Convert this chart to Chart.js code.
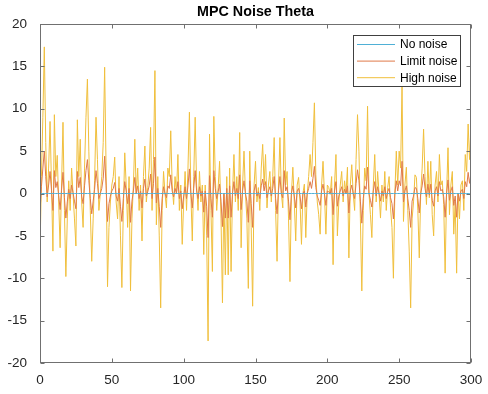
<!DOCTYPE html>
<html>
<head>
<meta charset="utf-8">
<script src="https://cdn.jsdelivr.net/npm/chart.js@4.4.1/dist/chart.umd.min.js"></script>
<style>
  body { margin: 0; background: #ffffff; }
  canvas { display: block; }
</style>
</head>
<body>
<canvas id="theta" width="488" height="394"></canvas>
<script>
////////////////////////////// data //////////////////////////////
var chartTitle = "MPC Noise Theta"
var seriesNames = ["No noise", "Limit noise", "High noise"]
var xTicks = [0, 50, 100, 150, 200, 250, 300]
var yTicks = [-20, -15, -10, -5, 0, 5, 10, 15, 20]

// sample index 0..300
var highNoise = [
  -7, 2, 9, 17.3, 6, -1, 3, 8.5, 1, -6.8,
  9.3, 2, 4.5, -1, -6.4, 1, 8.4, -2, -9.8, -3,
  1.5, -2, 3, 0, -3, -6.2, 8.7, 2, 6.4, -1,
  -4, 3, 9, 13.5, 5, -2, -8, -3, 1.5, 9,
  4, -2, 0, 2, 6, 14.9, 3, -11, -4, -1,
  1, 2, 4.3, -1, -3, 2, -5, -11.1, -2, 4.8,
  1, -4, 2, -11.5, -3, 1, 6.4, 0, 3, -2,
  1, -5.6, 2, 5.6, -1, 0.7, 3, 7.8, -2, 4,
  14.5, -3.7, 2, -5, -13.5, -2, 2.6, 0, -1.7, 3,
  2, 7.4, 1, -1.3, 2, 0, 4.6, -2, 1, -6,
  -1, 2.6, -2, 3, 9.6, 0, -5.6, 2, 9, 1,
  -2, 2.6, -1, 1, -7.2, 1, -5, -17.4, 7, -2,
  -9.2, 9.1, 2, -2, 0.7, 3.8, -3, -12.9, -0.1, -9.6,
  2, -9.6, 3, -9.2, 0, 4.6, -1, 2, -2, 7.2,
  -6.4, 1, 5, 0, -3, -11.2, 5, -4, -13.3, 1,
  3.8, -1, 0.7, -2, 3, 5.8, 1, 4.6, -1.7, 1,
  2.6, -1, 2, 6.6, -2, -8, 1, 6.6, 0, -1.7,
  8.9, 1, 2.6, -3, -10.4, 0, 3.1, -1, -5.6, 1,
  1.9, -1, -6, 0, 1.1, -5.2, 0, 2, 4.6, 2,
  6, 10.7, 2.2, -1, -2.5, -4.8, 1, 3.8, 0, -4.8,
  1, 0.7, -0.1, 2, -8.4, 1, 4.6, -5, -1, 1,
  2.6, -1, 1.5, 0, 3.1, -7.6, 1, 3.4, 0, -2,
  4, 9.3, 5, -3, -11.5, -2, 3, 1.5, 10.3, 0,
  -2.5, -5.2, 1, 4.6, -1, 2.6, 0, -2.9, 1, -1,
  2.6, -2, 0.7, 2, -1.7, -4, -10, 0, 5, 1,
  5, 3, 12.8, -3.3, 1, 3.1, -2, -6.8, -13.5, -3,
  -1, 2.2, 1.9, -2, -7.6, 0, 3, 7.6, 2, -1.3,
  3.8, -0.5, 3.8, -2.5, -5, 1, 2.6, -1, 4.6, 1,
  1.5, -1.3, -9.4, 0, 5.4, -2.5, 1, 2.6, -4.8, -1,
  -9.4, 0, -3, 1, 1.5, -2, 4.6, 2.6, 8.2, 4, 8
]

var limitNoise = [
  -2.2, 0.8, 3.0, 5.0, 2.0, -0.4, 1.0, 2.6, 0.4, -2.0,
  2.7, 0.7, 1.4, -0.2, -1.9, 0.4, 2.5, -0.5, -2.9, -1.0,
  0.5, -0.6, 1.0, 0.1, -0.9, -1.8, 2.6, 0.7, 1.9, -0.3,
  -1.2, 0.9, 2.7, 4.0, 1.5, -0.6, -2.4, -0.9, 0.5, 2.7,
  1.2, -0.6, 0.0, 0.6, 1.8, 4.4, 0.9, -3.3, -1.2, -0.3,
  0.3, 0.6, 1.3, -0.3, -0.9, 0.6, -1.5, -3.3, -0.6, 1.4,
  0.3, -1.2, 0.6, -3.4, -0.9, 0.3, 1.9, 0.0, 0.9, -0.6,
  0.3, -1.7, 0.6, 1.7, -0.3, 0.2, 0.9, 2.3, -0.6, 1.2,
  4.3, -1.1, 0.6, -1.5, -4.0, -0.6, 0.8, 0.0, -0.5, 0.9,
  0.6, 2.2, 0.3, -0.4, 0.6, 0.0, 1.4, -0.6, 0.3, -1.8,
  -0.3, 0.8, -0.6, 0.9, 2.9, 0.0, -1.7, 0.6, 2.7, 0.3,
  -0.6, 0.8, -0.3, 0.3, -2.2, 0.3, -1.5, -5.2, 2.1, -0.6,
  -2.8, 2.7, 0.6, -0.6, 0.2, 1.1, -0.9, -3.9, 0.0, -2.9,
  0.6, -2.9, 0.9, -2.8, 0.0, 1.4, -0.3, 0.6, -0.6, 2.2,
  -1.9, 0.3, 1.5, 0.0, -0.9, -3.4, 1.5, -1.2, -4.0, 0.3,
  1.1, -0.3, 0.2, -0.6, 0.9, 1.7, 0.3, 1.4, -0.5, 0.3,
  0.8, -0.3, 0.6, 2.0, -0.6, -2.4, 0.3, 2.0, 0.0, -0.5,
  2.7, 0.3, 0.8, -0.9, -3.1, 0.0, 0.9, -0.3, -1.7, 0.3,
  0.6, -0.3, -1.8, 0.0, 0.3, -1.6, 0.0, 0.6, 1.4, 0.6,
  1.8, 3.2, 0.7, -0.3, -0.8, -1.4, 0.3, 1.1, 0.0, -1.4,
  0.3, 0.2, 0.0, 0.6, -2.5, 0.3, 1.4, -1.5, -0.3, 0.3,
  0.8, -0.3, 0.5, 0.0, 0.9, -2.3, 0.3, 1.0, 0.0, -0.6,
  1.2, 2.8, 1.5, -0.9, -3.5, -0.6, 0.9, 0.5, 3.1, 0.0,
  -0.8, -1.6, 0.3, 1.4, -0.3, 0.8, 0.0, -0.9, 0.3, -0.3,
  0.8, -0.6, 0.2, 0.6, -0.5, -1.2, -3.0, 0.0, 1.5, 0.3,
  1.5, 0.9, 3.8, -1.0, 0.3, 0.9, -0.6, -2.0, -4.0, -0.9,
  -0.3, 0.7, 0.6, -0.6, -2.3, 0.0, 0.9, 2.3, 0.6, -0.4,
  1.1, -0.2, 1.1, -0.8, -1.5, 0.3, 0.8, -0.3, 1.4, 0.3,
  0.5, -0.4, -2.8, 0.0, 1.6, -0.8, 0.3, 0.8, -1.4, -0.3,
  -2.8, 0.0, -0.9, 0.3, 0.5, -0.6, 1.4, 0.8, 2.5, 1.2, 2.4
]

// the no-noise run sits flat on zero
var noNoise = highNoise.map(() => 0)
////////////////////////////////////////////////////////////////////////////////

var lineColors = ['#4fb0d6', '#e07a48', '#f0bf3c']
var axisColor = '#707070'
var textColor = '#262626'
var fontFamily = 'Arial, "Liberation Sans", Helvetica, sans-serif'

function toPoints(arr) {
  return arr.map((v, i) => ({ x: i, y: v }))
}

////////////////////// box, inward ticks, title and legend ///////////////////////
var matlabAxes = {
  id: 'matlabAxes',
  afterDatasetsDraw(chart) {
    let ctx = chart.ctx
    let a = chart.chartArea
    let xs = chart.scales.x, ys = chart.scales.y
    let L = Math.round(a.left) + 0.5, R = Math.round(a.right) - 0.5
    let T = Math.round(a.top) + 0.5, B = Math.round(a.bottom) - 0.5
    ctx.save()
    ctx.strokeStyle = axisColor
    ctx.lineWidth = 1
    ctx.strokeRect(L, T, R - L, B - T)
    ctx.beginPath()
    xTicks.forEach(v => {
      let px = Math.round(xs.getPixelForValue(v)) + 0.5
      ctx.moveTo(px, B); ctx.lineTo(px, B - 4)
      ctx.moveTo(px, T); ctx.lineTo(px, T + 4)
    })
    yTicks.forEach(v => {
      let py = Math.round(ys.getPixelForValue(v)) + 0.5
      ctx.moveTo(L, py); ctx.lineTo(L + 4, py)
      ctx.moveTo(R, py); ctx.lineTo(R - 4, py)
    })
    ctx.stroke()

    // title
    ctx.fillStyle = '#000000'
    ctx.font = 'bold 14.3px ' + fontFamily
    ctx.textAlign = 'center'
    ctx.textBaseline = 'middle'
    ctx.fillText(chartTitle, (a.left + a.right) / 2, 12)

    // legend
    let bx = 353.5, by = 35.5, bw = 107, bh = 51
    ctx.fillStyle = '#ffffff'
    ctx.fillRect(bx, by, bw, bh)
    ctx.strokeStyle = '#404040'
    ctx.strokeRect(bx, by, bw, bh)
    ctx.font = '12px ' + fontFamily
    ctx.textAlign = 'left'
    seriesNames.forEach((name, i) => {
      let cy = 44 + i * 16.6
      ctx.strokeStyle = lineColors[i]
      ctx.beginPath()
      ctx.moveTo(357, cy + 0.5); ctx.lineTo(395, cy + 0.5)
      ctx.stroke()
      ctx.fillStyle = '#000000'
      ctx.fillText(name, 400, cy + 1)
    })
    ctx.restore()
  }
}
////////////////////////////////////////////////////////////////////////////////

var ctxTheta = document.getElementById('theta').getContext('2d')
var thetaChart = new Chart(ctxTheta, {
  type: 'line',
  data: {
    datasets: [{
        label: seriesNames[0],
        data: toPoints(noNoise),
        borderColor: lineColors[0],
        order: 0
      },
      {
        label: seriesNames[1],
        data: toPoints(limitNoise),
        borderColor: lineColors[1],
        order: 1
      },
      {
        label: seriesNames[2],
        data: toPoints(highNoise),
        borderColor: lineColors[2],
        order: 2
      }
    ]
  },
  options: {
    responsive: false,
    animation: false,
    devicePixelRatio: 1,
    layout: {
      padding: { top: 24, right: 17, bottom: 0, left: 0 }
    },
    elements: {
      point: { radius: 0 },
      line: { borderWidth: 1, tension: 0 }
    },
    plugins: {
      legend: { display: false },
      title: { display: false },
      tooltip: { enabled: false }
    },
    scales: {
      x: {
        type: 'linear',
        min: 0,
        max: 300,
        afterFit: s => { s.height = 31 },
        afterBuildTicks: s => { s.ticks = xTicks.map(v => ({ value: v })) },
        grid: { display: false },
        border: { display: false },
        ticks: {
          color: textColor,
          padding: 1,
          maxRotation: 0,
          font: { family: fontFamily, size: 13.5 }
        }
      },
      y: {
        min: -20,
        max: 20,
        afterFit: s => { s.width = 40 },
        afterBuildTicks: s => { s.ticks = yTicks.map(v => ({ value: v })) },
        grid: { display: false },
        border: { display: false },
        ticks: {
          color: textColor,
          padding: 5,
          font: { family: fontFamily, size: 13.5 }
        }
      }
    }
  },
  plugins: [matlabAxes]
});
</script>
</body>
</html>
